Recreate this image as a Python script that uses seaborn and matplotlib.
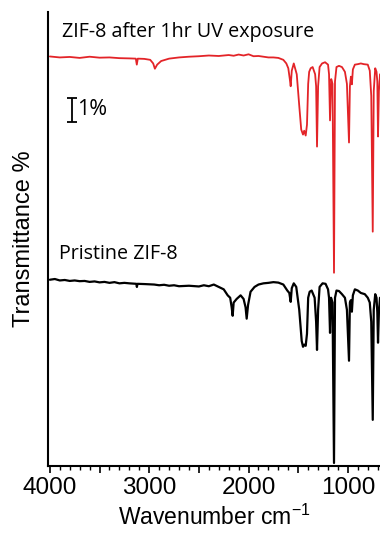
import pandas as pd
import matplotlib.pyplot as plt
from matplotlib.ticker import MultipleLocator, FuncFormatter
import seaborn as sns

# spectrum after 1 hr UV (wavenumber cm-1, transmittance %)
wn_uv = [4000, 3900, 3800, 3700, 3600, 3500, 3400, 3300, 3200, 3135, 3125, 3115,
         3050, 2990, 2960, 2943, 2920, 2880, 2800, 2700, 2600, 2500, 2400, 2300,
         2200, 2150, 2100, 2050, 2000, 1950, 1900, 1850, 1800, 1750, 1700, 1650,
         1620, 1600, 1585, 1576, 1565, 1545, 1515, 1490, 1470, 1452, 1440, 1425,
         1412, 1400, 1390, 1375, 1355, 1330, 1320, 1311, 1300, 1285, 1260, 1230,
         1200, 1190, 1180, 1168, 1155, 1140, 1130, 1115, 1090, 1060, 1030, 1010,
         989, 980, 970, 960, 950, 930, 900, 870, 840, 800, 780, 765, 750, 740,
         725, 712, 704, 697, 688, 677]
t_uv = [17.04, 17.00, 17.02, 16.98, 17.03, 16.99, 17.00, 16.97, 16.96, 16.95, 16.70, 16.95,
        16.94, 16.90, 16.75, 16.53, 16.70, 16.85, 16.95, 17.00, 17.03, 17.05, 17.08, 17.06,
        17.10, 17.07, 17.12, 17.08, 17.13, 17.05, 17.06, 17.03, 17.00, 17.00, 16.98, 16.90,
        16.75, 16.55, 16.10, 15.80, 16.45, 16.75, 16.30, 15.00, 14.00, 13.79, 13.95, 13.75,
        14.20, 15.90, 16.40, 16.55, 16.60, 16.30, 15.80, 13.29, 15.80, 16.60, 16.75, 16.80,
        16.70, 16.30, 14.38, 16.10, 15.90, 8.04, 16.00, 16.60, 16.65, 16.60, 16.40, 15.90,
        13.46, 15.80, 16.20, 15.88, 16.50, 16.70, 16.72, 16.75, 16.72, 16.70, 16.45, 15.40,
        9.75, 15.60, 16.55, 16.40, 16.00, 13.71, 15.60, 16.30]

# pristine ZIF-8
wn_pr = [4000, 3950, 3900, 3850, 3800, 3750, 3700, 3650, 3600, 3550, 3500, 3450,
         3400, 3350, 3300, 3250, 3200, 3130, 3124, 3118, 3050, 2950, 2900, 2850,
         2800, 2750, 2700, 2600, 2500, 2450, 2400, 2350, 2300, 2250, 2210, 2185,
         2170, 2160, 2150, 2120, 2080, 2050, 2030, 2019, 2005, 1980, 1940, 1900,
         1850, 1800, 1750, 1700, 1650, 1610, 1590, 1576, 1565, 1545, 1520, 1490,
         1465, 1452, 1440, 1425, 1412, 1400, 1385, 1365, 1335, 1320, 1311, 1300,
         1285, 1255, 1225, 1200, 1190, 1180, 1170, 1155, 1140, 1130, 1115, 1090,
         1060, 1030, 1010, 989, 980, 970, 960, 950, 930, 900, 870, 830, 800, 780,
         765, 750, 740, 725, 712, 704, 697, 688, 677]
t_pr = [7.75, 7.78, 7.72, 7.74, 7.70, 7.72, 7.69, 7.70, 7.66, 7.68, 7.64, 7.66,
        7.62, 7.65, 7.60, 7.62, 7.60, 7.58, 7.45, 7.58, 7.57, 7.55, 7.52, 7.54,
        7.50, 7.52, 7.48, 7.50, 7.47, 7.52, 7.48, 7.55, 7.45, 7.35, 7.10, 7.00,
        6.60, 6.25, 6.80, 6.95, 7.10, 6.95, 6.60, 6.13, 6.70, 7.25, 7.45, 7.55,
        7.60, 7.62, 7.65, 7.63, 7.55, 7.30, 7.20, 6.83, 7.40, 7.60, 7.45, 6.50,
        5.20, 4.96, 5.05, 5.00, 5.50, 7.00, 7.25, 7.30, 7.00, 6.00, 4.83, 6.50,
        7.45, 7.60, 7.58, 7.35, 7.00, 5.54, 7.00, 6.80, 0.125, 7.00, 7.30, 7.28,
        7.15, 7.00, 6.50, 4.38, 6.80, 6.90, 6.42, 7.10, 7.35, 7.30, 7.20, 7.15, 7.00, 6.80,
        6.00, 1.92, 6.50, 7.15, 7.00, 6.40, 5.13, 6.40, 7.00]

df_uv = pd.DataFrame({"wn": wn_uv, "t": t_uv})
df_pr = pd.DataFrame({"wn": wn_pr, "t": t_pr})

sns.set_theme(style="ticks")
plt.rcParams['font.family'] = ['Liberation Sans', 'DejaVu Sans']
plt.rcParams['text.color'] = 'black'
plt.rcParams['axes.labelcolor'] = 'black'
plt.rcParams['xtick.color'] = 'black'
plt.rcParams['axes.edgecolor'] = 'black'
plt.rcParams['mathtext.fontset'] = 'custom'
plt.rcParams['mathtext.rm'] = 'Liberation Sans'
plt.rcParams['mathtext.default'] = 'regular'

fig = plt.figure(figsize=(3.8, 5.35), dpi=100)
ax = fig.add_axes([0.126, 0.129, 0.874, 0.849])

sns.lineplot(data=df_uv, x="wn", y="t", sort=False, color="#e32428", lw=1.3, ax=ax)
sns.lineplot(data=df_pr, x="wn", y="t", sort=False, color="black", lw=1.6, ax=ax)

ax.set_xlim(4020, 677)
ax.set_ylim(0, 18.9)
sns.despine(ax=ax, top=True, right=True)
ax.spines['left'].set_linewidth(1.5)
ax.spines['bottom'].set_linewidth(1.5)

ax.set_yticks([])
ax.xaxis.set_major_locator(MultipleLocator(500))
ax.xaxis.set_minor_locator(MultipleLocator(100))
ax.xaxis.set_major_formatter(FuncFormatter(lambda v, p: f"{int(v)}" if v % 1000 == 0 else ""))
ax.tick_params(axis='x', which='major', length=5, width=1.2, labelsize=17.5, pad=3)
ax.tick_params(axis='x', which='minor', length=3, width=1.0)

ax.set_xlabel("Wavenumber cm$^{-1}$", fontsize=16.5, labelpad=4)
ax.set_ylabel("Transmittance %", fontsize=17, labelpad=9)

lab = dict(fontsize=14.2, family=['Open Sans', 'DejaVu Sans'], va='center', ha='left')
ax.text(3880, 18.04, "ZIF-8 after 1hr UV exposure", **lab)
ax.text(3910, 8.83, "Pristine ZIF-8", **lab)

# 1% scale bar
ax.errorbar([3778], [14.83], yerr=[0.5], color='black', capsize=3.5, elinewidth=1.3, capthick=1.3)
ax.text(3725, 14.83, "1%", fontsize=15.5, family=['Open Sans', 'DejaVu Sans'], va='center', ha='left')

plt.savefig("out.png", dpi=100)
